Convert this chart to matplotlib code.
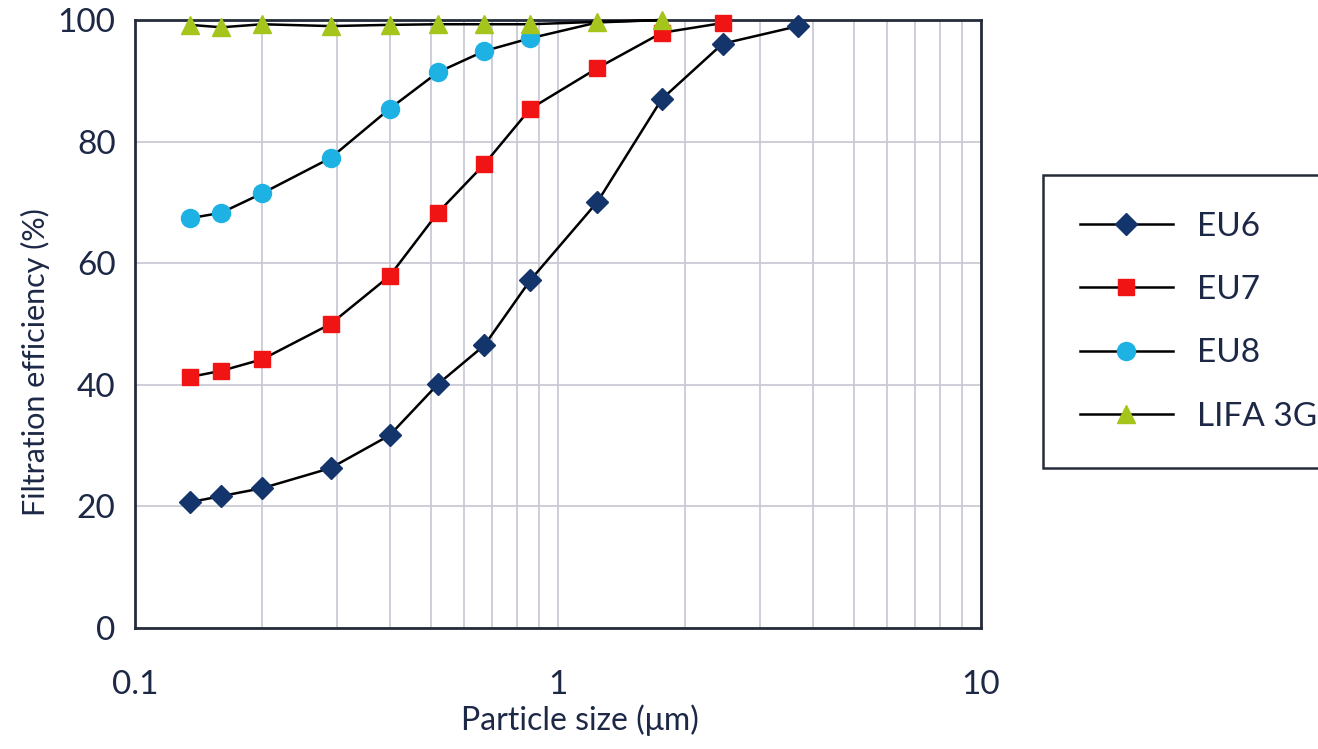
import matplotlib.pyplot as plt

# particle size channels (um)
sizes = [0.135, 0.16, 0.2, 0.29, 0.4, 0.52, 0.67, 0.86, 1.24, 1.76, 2.45, 3.7]

eu6 = [20.7, 21.7, 23.0, 26.3, 31.7, 40.1, 46.5, 57.2, 70.1, 87.0, 96.1, 99.0]
eu7 = [41.3, 42.3, 44.2, 50.0, 57.9, 68.3, 76.3, 85.4, 92.1, 97.9, 99.5]
eu8 = [67.4, 68.3, 71.5, 77.3, 85.4, 91.4, 94.9, 97.0, 99.6, 100.0]
lifa = [99.2, 98.8, 99.3, 99.0, 99.2, 99.3, 99.3, 99.3, 99.7, 100.0]

labels = ["EU6", "EU7", "EU8", "LIFA 3G"]
yticks = [0, 20, 40, 60, 80, 100]
xticks = [0.1, 1, 10]
xticklabels = ["0.1", "1", "10"]

plt.rcParams['font.family'] = ['Lato', 'DejaVu Sans']
txt = '#1c2846'

fig = plt.figure(figsize=(13.18, 7.49), dpi=100)
ax = fig.add_axes([0.1024, 0.1615, 0.6419, 0.8118])

ax.plot(sizes[:len(eu6)], eu6, '-', color='black', lw=1.8, marker='D', ms=11,
        mfc='#14346c', mec='#14346c', label=labels[0], clip_on=False, zorder=5)
ax.plot(sizes[:len(eu7)], eu7, '-', color='black', lw=1.8, marker='s', ms=12,
        mfc='#f01414', mec='#f01414', label=labels[1], clip_on=False, zorder=4)
# last EU8 points sit under the LIFA triangles, no visible marker there
ax.plot(sizes[:len(eu8)], eu8, '-', color='black', lw=1.8, marker='o', ms=13,
        mfc='#1eb2e4', mec='#1eb2e4', label=labels[2], clip_on=False, zorder=3,
        markevery=list(range(8)))
ax.plot(sizes[:len(lifa)], lifa, '-', color='black', lw=1.8, marker='^', ms=13,
        mfc='#a5c41c', mec='#a5c41c', label=labels[3], clip_on=False, zorder=6)

ax.set_xscale('log')
ax.set_xlim(0.1, 10)
ax.set_ylim(0, 100)
ax.set_xticks(xticks)
ax.set_xticklabels(xticklabels)
ax.set_yticks(yticks)
ax.tick_params(which='both', length=0, labelsize=24, labelcolor=txt)
ax.tick_params(axis='y', pad=14)
ax.tick_params(axis='x', pad=30)
ax.minorticks_on()
ax.yaxis.set_minor_locator(plt.NullLocator())

ax.grid(True, which='both', axis='x', color='#c9cad6', lw=1.3)
ax.grid(True, which='major', axis='y', color='#c9cad6', lw=1.3)
ax.set_axisbelow(True)

for s in ax.spines.values():
    s.set_color('#252c3a')
    s.set_linewidth(2)

ax.set_xlabel("Particle size (μm)", fontsize=23, color=txt)
ax.set_ylabel("Filtration efficiency (%)", fontsize=22, color=txt)
ax.xaxis.set_label_coords(0.526, -0.125)
ax.yaxis.set_label_coords(-0.10, 0.4375)

leg = fig.legend(loc='upper left', bbox_to_anchor=(1043 / 1318, 1 - 175 / 749),
                 fontsize=24, handlelength=2.8, handletextpad=0.73, labelspacing=1.0,
                 borderpad=1.1, borderaxespad=0, fancybox=False, framealpha=1)
for t in leg.get_texts():
    t.set_color(txt)
leg.get_frame().set_edgecolor('#252c3a')
leg.get_frame().set_linewidth(1.8)

plt.savefig('out.png', dpi=100)
